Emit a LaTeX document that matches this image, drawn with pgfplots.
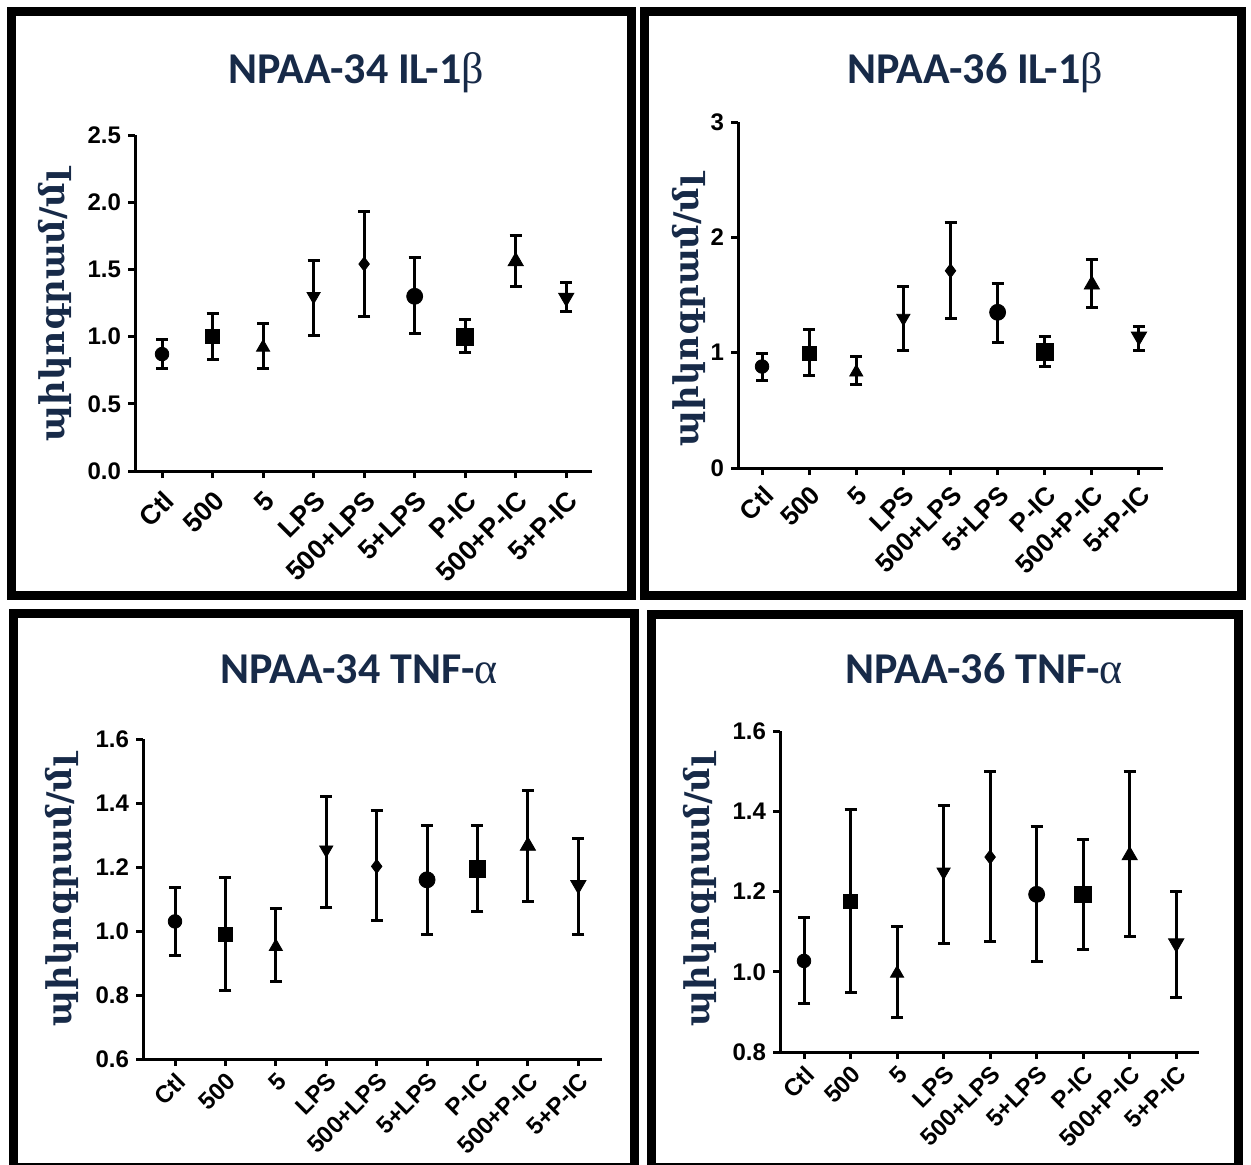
\documentclass[border=0pt]{standalone}
\usepackage{pgfplots}
\pgfplotsset{compat=1.18}
\usepackage{fontspec}
\setmainfont{Liberation Sans}
\newfontfamily\titlefont{Carlito}
\newfontfamily\greekfont{Liberation Serif}
\newfontfamily\armfont{DejaVu Serif}
\definecolor{navy}{HTML}{172A48}

\pgfplotsset{
  panel/.style={
    scale only axis, anchor=south west,
    axis lines=left, axis line style={-, line width=1.5pt, black},
    tick align=outside, major tick length=3.5pt,
    tick style={line width=1.5pt, black},
    xtick={0,...,8},
    xticklabels={Ctl,500,5,LPS,500+LPS,5+LPS,P-IC,500+P-IC,5+P-IC},
    xticklabel style={rotate=45, anchor=north east, inner sep=1pt},
    yticklabel style={font=\fontsize{12}{12}\selectfont\bfseries, /pgf/number format/.cd, fixed, fixed zerofill, precision=1},
    /pgf/number format/assume math mode=true,
    clip=false,
    every axis plot/.append style={only marks, black,
      error bars/y dir=both, error bars/y explicit,
      error bars/error bar style={line width=1.5pt, black},
      error bars/error mark options={rotate=90, mark size=3pt, line width=1.5pt, black}},
  },
  m0/.style={mark=*, mark size=3.4pt},
  m1/.style={mark=square*, mark size=3.5pt},
  m2/.style={mark=triangle*, mark size=3.8pt},
  m3/.style={mark=triangle*, mark size=3.8pt, mark options={rotate=180}},
  m4/.style={mark=diamond*, mark size=3.5pt},
  m5/.style={mark=*, mark size=4pt},
  m6/.style={mark=square*, mark size=4.2pt},
  m7/.style={mark=triangle*, mark size=4.4pt},
  m8/.style={mark=triangle*, mark size=4.4pt, mark options={rotate=180}},
}
\newcommand\pt[5]{\addplot[#5] coordinates {(#1,#2) += (0,#3) -= (0,#4)};}

\begin{document}
\begin{tikzpicture}
\useasboundingbox (0,0) rectangle (625.5pt,-582pt);
\clip (0,0) rectangle (625.5pt,-582pt);
\begin{scope}[x=0.5pt,y=-0.5pt]
  \fill[white] (0,0) rectangle (1251,1164);
  \draw[line width=4.5pt] (11.5,11.5) rectangle (631.5,595);
  \draw[line width=4.5pt] (644.5,11.5) rectangle (1241,595.5);
  \draw[line width=4.5pt] (13.5,613) rectangle (634.5,1167.5);
  \draw[line width=4.5pt] (651.5,614.5) rectangle (1238.5,1167.5);
  \tikzset{ttl/.style={anchor=base, text=navy, font=\titlefont\bfseries\fontsize{22}{22}\selectfont},
           ylab/.style={rotate=90, text=navy, font=\armfont\bfseries\fontsize{17}{17}\selectfont}}
  \node[ttl] at (356,83) {NPAA-34 IL-1{\greekfont\mdseries β}};
  \node[ttl] at (975,83) {NPAA-36 IL-1{\greekfont\mdseries β}};
  \node[ttl] at (359,683) {NPAA-34 TNF-{\greekfont\mdseries α}};
  \node[ttl] at (984,683) {NPAA-36 TNF-{\greekfont\mdseries α}};
  \node[ylab] at (55,305) {պիկոգրամ/մլ};
  \node[ylab] at (689,310) {պիկոգրամ/մլ};
  \node[ylab] at (62,890) {պիկոգրամ/մլ};
  \node[ylab] at (700,890) {պիկոգրամ/մլ};
\end{scope}

% Panel 1
\begin{axis}[panel, at={(67.5pt,-235.5pt)}, width=228.5pt, height=168pt,
  xticklabel shift=4pt, xticklabel style={font=\fontsize{13.5}{13.5}\selectfont\bfseries},
  xmin=-0.535, xmax=8.51, ymin=0, ymax=2.5, ytick={0,0.5,1,1.5,2,2.5}]
\pt{0}{0.87}{0.11}{0.11}{m0}
\pt{1}{1.00}{0.17}{0.17}{m1}
\pt{2}{0.92}{0.18}{0.16}{m2}
\pt{3}{1.30}{0.27}{0.29}{m3}
\pt{4}{1.54}{0.39}{0.39}{m4}
\pt{5}{1.30}{0.29}{0.28}{m5}
\pt{6}{1.00}{0.13}{0.12}{m6}
\pt{7}{1.56}{0.19}{0.19}{m7}
\pt{8}{1.29}{0.11}{0.10}{m8}
\end{axis}

% Panel 2
\begin{axis}[panel, at={(369pt,-234pt)}, width=212.5pt, height=173pt,
  xticklabel shift=3pt, xticklabel style={font=\fontsize{13}{13}\selectfont\bfseries},
  xmin=-0.51, xmax=8.51, ymin=0, ymax=3, ytick={0,1,2,3},
  yticklabel style={/pgf/number format/.cd, fixed, precision=0, fixed zerofill=false}]
\pt{0}{0.88}{0.11}{0.12}{m0}
\pt{1}{0.99}{0.21}{0.19}{m1}
\pt{2}{0.83}{0.14}{0.11}{m2}
\pt{3}{1.30}{0.27}{0.28}{m3}
\pt{4}{1.71}{0.42}{0.41}{m4}
\pt{5}{1.35}{0.25}{0.26}{m5}
\pt{6}{1.01}{0.13}{0.13}{m6}
\pt{7}{1.59}{0.22}{0.20}{m7}
\pt{8}{1.14}{0.09}{0.12}{m8}
\end{axis}

% Panel 3
\begin{axis}[panel, at={(71.5pt,-529.5pt)}, width=229.5pt, height=160pt,
  xticklabel shift=1pt, xticklabel style={font=\fontsize{12}{12}\selectfont\bfseries},
  xmin=-0.635, xmax=8.47, ymin=0.6, ymax=1.6, ytick={0.6,0.8,1.0,1.2,1.4,1.6}]
\pt{0}{1.030}{0.107}{0.107}{m0}
\pt{1}{0.988}{0.178}{0.175}{m1}
\pt{2}{0.951}{0.118}{0.109}{m2}
\pt{3}{1.254}{0.166}{0.181}{m3}
\pt{4}{1.202}{0.175}{0.170}{m4}
\pt{5}{1.160}{0.170}{0.172}{m5}
\pt{6}{1.195}{0.135}{0.135}{m6}
\pt{7}{1.266}{0.173}{0.174}{m7}
\pt{8}{1.144}{0.144}{0.154}{m8}
\end{axis}

% Panel 4
\begin{axis}[panel, at={(390pt,-526pt)}, width=209.5pt, height=160.5pt,
  xticklabel shift=1pt, xticklabel style={font=\fontsize{12}{12}\selectfont\bfseries},
  xmin=-0.516, xmax=8.49, ymin=0.8, ymax=1.6, ytick={0.8,1.0,1.2,1.4,1.6}]
\pt{0}{1.027}{0.108}{0.107}{m0}
\pt{1}{1.176}{0.228}{0.227}{m1}
\pt{2}{0.996}{0.118}{0.111}{m2}
\pt{3}{1.249}{0.166}{0.178}{m3}
\pt{4}{1.286}{0.214}{0.210}{m4}
\pt{5}{1.193}{0.170}{0.168}{m5}
\pt{6}{1.193}{0.137}{0.137}{m6}
\pt{7}{1.290}{0.210}{0.201}{m7}
\pt{8}{1.071}{0.128}{0.136}{m8}
\end{axis}
\end{tikzpicture}
\end{document}
